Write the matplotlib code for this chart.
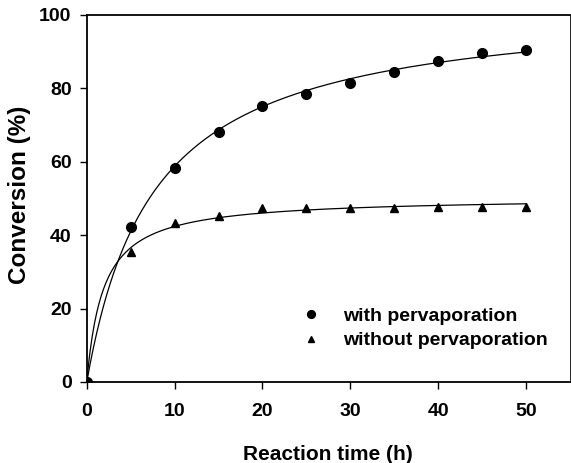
"""
Conversion vs reaction time, with and without pervaporation.
"""

import matplotlib
matplotlib.use("Agg")
import matplotlib.pyplot as plt
import numpy as np

plt.rcParams["font.family"] = ["Liberation Sans", "DejaVu Sans"]

time_h = [0, 5, 10, 15, 20, 25, 30, 35, 40, 45, 50]
conv_with = [0, 42.3, 58.3, 68.2, 75.3, 78.5, 81.5, 84.5, 87.5, 89.6, 90.5]
conv_without = [0, 35.4, 43.3, 45.3, 47.4, 47.5, 47.4, 47.4, 47.7, 47.6, 47.6]

x_ticks = [0, 10, 20, 30, 40, 50]
y_ticks = [0, 20, 40, 60, 80, 100]


def _fit_hyperbola(t, y):
    # y = a * t / (b + t); scan b, solve a by least squares
    t = np.asarray(t, dtype=float)
    y = np.asarray(y, dtype=float)
    best = None
    for b in np.linspace(0.1, 30, 3000):
        g = t / (b + t)
        a = np.dot(g, y) / np.dot(g, g)
        err = np.sum((a * g - y) ** 2)
        if best is None or err < best[0]:
            best = (err, a, b)
    return best[1], best[2]


fig = plt.figure(figsize=(5.71, 4.63), dpi=100)
ax = fig.add_axes([0.152, 0.175, 0.846, 0.793])

t_fine = np.linspace(0, 50, 400)
for series in (conv_with, conv_without):
    a, b = _fit_hyperbola(time_h, series)
    ax.plot(t_fine, a * t_fine / (b + t_fine), color="black", linewidth=0.9, zorder=2)

ax.plot(time_h, conv_with, linestyle="none", marker="o", markersize=7,
        color="black", label="with pervaporation", zorder=3)
ax.plot(time_h, conv_without, linestyle="none", marker="^", markersize=6,
        color="black", label="without pervaporation", zorder=3)

ax.set_xlim(0, 55)
ax.set_ylim(0, 100)
ax.set_xticks(x_ticks)
ax.set_yticks(y_ticks)
ax.tick_params(axis="both", direction="out", length=5, width=1.0, labelsize=14)
ax.tick_params(axis="x", pad=10)
ax.tick_params(axis="y", pad=6)
for lbl in ax.get_xticklabels() + ax.get_yticklabels():
    lbl.set_fontweight("bold")

ax.set_xlabel("Reaction time (h)", fontsize=15, fontweight="bold", va="center")
ax.set_ylabel("Conversion (%)", fontsize=17.5, fontweight="bold", va="center")
ax.xaxis.set_label_coords(0.5, -0.198)
ax.yaxis.set_label_coords(-0.139, 0.51)

for side in ("left", "bottom", "top"):
    ax.spines[side].set_linewidth(1.3)
ax.spines["right"].set_linewidth(0.6)

leg = ax.legend(loc="upper left", bbox_to_anchor=(0.445, 0.203), frameon=False,
                fontsize=14, handletextpad=1.15, labelspacing=0.35,
                markerscale=0.8, handlelength=1.0, borderpad=0,
                borderaxespad=0)
for txt in leg.get_texts():
    txt.set_fontweight("bold")

fig.savefig("out.png", dpi=100)
